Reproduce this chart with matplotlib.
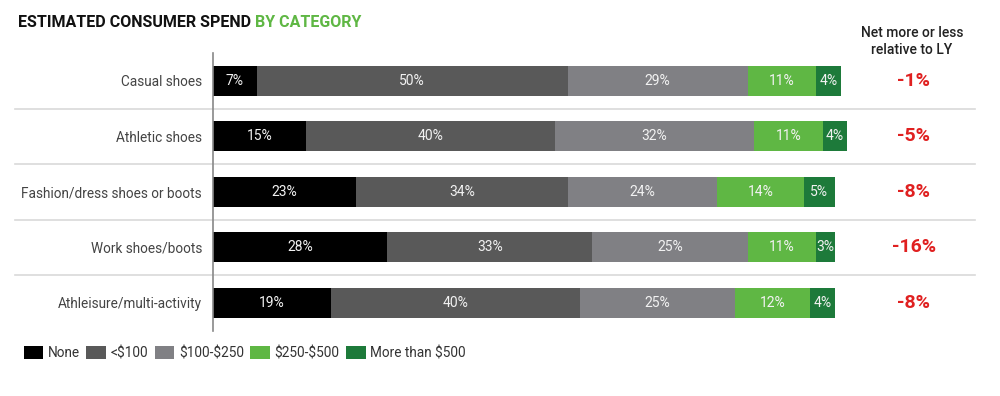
import matplotlib
matplotlib.use("Agg")
import matplotlib.pyplot as plt
import matplotlib.transforms as mtransforms
from matplotlib.patches import Patch

categories = ["Casual shoes", "Athletic shoes", "Fashion/dress shoes or boots",
              "Work shoes/boots", "Athleisure/multi-activity"]
series_names = ["None", "<$100", "$100-$250", "$250-$500", "More than $500"]
none_vals = [7, 15, 23, 28, 19]
under100 = [50, 40, 34, 33, 40]
v100_250 = [29, 32, 24, 25, 25]
v250_500 = [11, 11, 14, 11, 12]
over500 = [4, 4, 5, 3, 4]
net_change = ["-1%", "-5%", "-8%", "-16%", "-8%"]

colors = ["#000000", "#595959", "#808084", "#5fb744", "#1d7a3a"]
series = [none_vals, under100, v100_250, v250_500, over500]

plt.rcParams['font.family'] = ['Roboto', 'DejaVu Sans']
plt.rcParams['text.parse_math'] = False

fig = plt.figure(figsize=(10, 3.96), dpi=100)
ax = fig.add_axes([0.213, 0.1648, 0.6344, 0.7008])

n = len(categories)
ypos = list(range(n))
left = [0] * n
for vals, col in zip(series, colors):
    bars = ax.barh(ypos, vals, left=left, height=0.54, color=col, edgecolor='none')
    for b, v in zip(bars, vals):
        ax.text(b.get_x() + b.get_width() / 2, b.get_y() + b.get_height() / 2,
                f"{v}%", ha='center', va='center', color='#f2f2f2', fontsize=10)
    left = [l + v for l, v in zip(left, vals)]

ax.set_xlim(0, 102)
ax.set_ylim(n - 0.5, -0.5)
ax.set_yticks(ypos)
ax.set_yticklabels(categories, fontsize=9.8, color='#444444')
ax.tick_params(axis='y', length=0, pad=8)
ax.set_xticks([])
for s in ['top', 'right', 'bottom']:
    ax.spines[s].set_visible(False)
ax.spines['left'].set_color('#888888')
ax.spines['left'].set_linewidth(1.2)

# row separators
trans = mtransforms.blended_transform_factory(fig.transFigure, ax.transData)
for i in range(n - 1):
    ax.plot([0.015, 0.975], [i + 0.5, i + 0.5], transform=trans, color='#d9d9d9',
            lw=1.2, clip_on=False, zorder=0)

# net change column
for i, t in enumerate(net_change):
    ax.text(0.914, i, t, transform=trans, ha='center', va='center',
            color='#e02020', fontsize=14, fontweight='bold')

fig.text(0.912, 0.895, "Net more or less\nrelative to LY", ha='center', va='center',
         fontsize=10, fontweight='medium', color='#222222', linespacing=1.3)

# title
t1 = fig.text(0.018, 0.944, "ESTIMATED CONSUMER SPEND ", ha='left', va='center',
              fontsize=11.5, fontweight='bold', color='#111111')
fig.canvas.draw()
bb = t1.get_window_extent()
x_end = fig.transFigure.inverted().transform((bb.x1, bb.y0))[0]
fig.text(x_end, 0.944, "BY CATEGORY", ha='left', va='center',
         fontsize=11.5, fontweight='bold', color='#5fb744')

handles = [Patch(facecolor=c, edgecolor='none', label=l) for c, l in zip(colors, series_names)]
leg = fig.legend(handles=handles, loc='center left', bbox_to_anchor=(0.014, 0.108), ncol=5,
                 frameon=False, fontsize=9.8, handlelength=1.45, handleheight=1.1,
                 handletextpad=0.35, columnspacing=0.45, labelcolor='#333333',
                 borderpad=0.2)

fig.savefig("out.png", dpi=100, facecolor='white')
